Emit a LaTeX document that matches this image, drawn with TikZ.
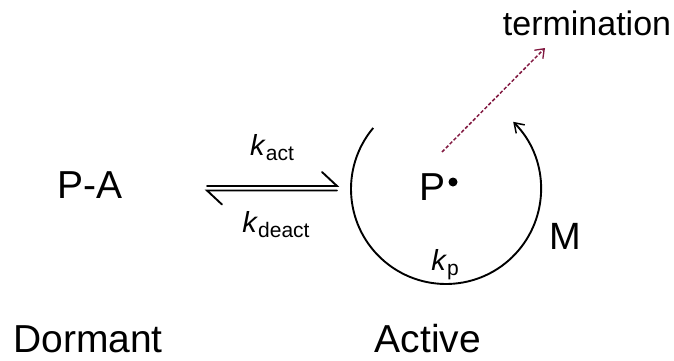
\documentclass[tikz,border=0pt]{standalone}
\usepackage{fontspec}
\setmainfont{Liberation Sans}
\usetikzlibrary{arrows.meta}
\definecolor{termcol}{RGB}{130,25,65}
\newcommand{\ksub}[1]{\textit{k}\raisebox{-5pt}{\fontsize{21}{21}\selectfont #1}}
\begin{document}
\begin{tikzpicture}[x=1pt,y=1pt,
  big/.style={font=\fontsize{39}{39}\selectfont, inner sep=0pt, anchor=base},
  klab/.style={font=\fontsize{29}{29}\selectfont, inner sep=0pt, anchor=base},
  eqline/.style={line width=1.9pt, line cap=round},
  cyc/.style={line width=1.9pt, -{Straight Barb[length=9pt,width=12pt,line width=1.5pt]}},
  term/.style={termcol, line width=1.5pt, dash pattern=on 3.5pt off 2pt, -{Straight Barb[length=8pt,width=12pt,line width=1.3pt]}}]
\useasboundingbox (0,0) rectangle (674,360);
\fill[white] (0,0) rectangle (674,360);

% labels
\node[big] (pa) at (90,162) {P-A};
\node[big] (dormant) at (88,8) {Dormant};
\node[big] (active) at (428,8) {Active};
\node[big] (p) at (432,160) {P};
\fill (453,178) circle (4.5pt);
\node[big, font=\fontsize{38}{38}\selectfont] (m) at (565,111) {M};
\node[klab, font=\fontsize{34}{34}\selectfont] (term) at (587,325) {termination};
\node[klab] (kact) at (272,205) {\ksub{act}};
\node[klab] (kdeact) at (276,128) {\ksub{deact}};
\node[klab] (kp) at (445,90) {\ksub{p}};

% equilibrium harpoons
\coordinate (t1) at (207,174);
\coordinate (t2) at (337,174);
\coordinate (b1) at (207,169.5);
\coordinate (b2) at (337,169.5);
\draw[eqline] (t1) -- (t2) -- ++(-15,14);
\draw[eqline] (b2) -- (b1) -- ++(15,-14);

% catalytic cycle
\coordinate (c) at (446,171);
\draw[cyc] ([shift={(140:95)}]c) arc[start angle=140, end angle=405, radius=95];

% termination
\coordinate (ts) at (442,208);
\coordinate (te) at (545,312);
\draw[term] (ts) -- (te);
\end{tikzpicture}
\end{document}
